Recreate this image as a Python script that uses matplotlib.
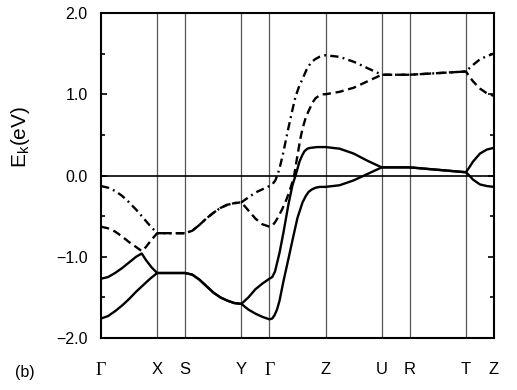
import numpy as np
import matplotlib
matplotlib.use("Agg")
import matplotlib.pyplot as plt

# high-symmetry points along the path (k in units of the shortest segment)
sym_labels = ["Γ", "X", "S", "Y", "Γ", "Z", "U", "R", "T", "Z"]
sym_k = [0, 2, 3, 5, 6, 8, 10, 11, 13, 14]

# lower solid band
k_s1 = [0, 0.25, 0.5, 0.75, 1.0, 1.25, 1.5, 1.75, 2.0,
        3.0, 3.25, 3.5, 3.75, 4.0, 4.25, 4.5, 4.75, 5.0,
        5.25, 5.5, 5.75, 6.0,
        6.1, 6.18, 6.27, 6.36, 6.5, 6.68, 6.85, 7.0, 7.18, 7.3, 7.4, 7.52, 7.65, 7.8, 8.0,
        8.5, 9.0, 9.5, 10.0, 11.0, 12.0, 13.0,
        13.12, 13.25, 13.5, 13.75, 14.0]
e_s1 = [-1.76, -1.73, -1.67, -1.60, -1.52, -1.43, -1.35, -1.27, -1.20,
        -1.20, -1.22, -1.28, -1.36, -1.44, -1.50, -1.54, -1.57, -1.58,
        -1.65, -1.70, -1.74, -1.77,
        -1.76, -1.72, -1.65, -1.54, -1.30, -1.02, -0.75, -0.52, -0.33, -0.25, -0.20, -0.17, -0.15, -0.14, -0.14,
        -0.12, -0.06, 0.02, 0.10, 0.10, 0.07, 0.04,
        0.00, -0.05, -0.11, -0.13, -0.14]

# upper solid band
k_s2 = [0, 0.25, 0.5, 0.75, 1.0, 1.25, 1.45, 1.6, 1.8, 2.0,
        3.0, 3.25, 3.5, 3.75, 4.0, 4.25, 4.5, 4.75, 5.0,
        5.25, 5.5, 5.75, 6.0,
        6.1, 6.2, 6.36, 6.5, 6.68, 6.82, 6.93, 7.07, 7.17, 7.25, 7.35, 7.46, 7.7, 8.0,
        8.5, 9.0, 9.5, 10.0, 11.0, 12.0, 13.0,
        13.12, 13.25, 13.5, 13.75, 14.0]
e_s2 = [-1.27, -1.25, -1.20, -1.14, -1.07, -1.00, -0.96, -1.04, -1.13, -1.20,
        -1.20, -1.22, -1.28, -1.36, -1.44, -1.50, -1.54, -1.57, -1.58,
        -1.50, -1.40, -1.33, -1.27,
        -1.25, -1.18, -0.95, -0.70, -0.35, -0.12, 0.00, 0.17, 0.25, 0.30, 0.33, 0.34, 0.35, 0.35,
        0.33, 0.27, 0.18, 0.10, 0.10, 0.07, 0.04,
        0.10, 0.17, 0.27, 0.32, 0.34]

# dashed band
k_d = [0, 0.25, 0.5, 0.75, 1.0, 1.25, 1.45, 1.6, 1.8, 2.0,
       3.0, 3.25, 3.5, 3.75, 4.0, 4.25, 4.5, 4.75, 5.0,
       5.25, 5.5, 5.75, 6.0,
       6.1, 6.21, 6.33, 6.46, 6.6, 6.71, 6.8, 6.89, 7.0, 7.1, 7.18, 7.3, 7.43, 7.54, 7.64, 7.76, 7.89, 8.0,
       8.5, 9.0, 9.5, 10.0, 11.0, 12.0, 13.0,
       13.12, 13.25, 13.5, 13.75, 14.0]
e_d = [-0.63, -0.65, -0.69, -0.75, -0.82, -0.88, -0.93, -0.88, -0.79, -0.71,
       -0.71, -0.68, -0.61, -0.53, -0.46, -0.40, -0.36, -0.34, -0.33,
       -0.43, -0.53, -0.60, -0.63,
       -0.62, -0.57, -0.50, -0.41, -0.30, -0.20, -0.10, 0.02, 0.25, 0.45, 0.58, 0.72, 0.82, 0.90, 0.95, 0.98, 1.00, 1.00,
       1.03, 1.08, 1.16, 1.24, 1.24, 1.26, 1.28,
       1.22, 1.16, 1.07, 1.01, 0.98]

# dash-dot band
k_dd = [0, 0.25, 0.5, 0.75, 1.0, 1.25, 1.5, 1.75, 2.0,
        3.0, 3.25, 3.5, 3.75, 4.0, 4.25, 4.5, 4.75, 5.0,
        5.25, 5.5, 5.75, 6.0,
        6.1, 6.21, 6.3, 6.39, 6.48, 6.57, 6.66, 6.75, 6.84, 6.93, 7.05, 7.18, 7.32, 7.46, 7.62, 7.78, 8.0,
        8.5, 9.0, 9.5, 10.0, 11.0, 12.0, 13.0,
        13.12, 13.25, 13.5, 13.75, 14.0]
e_dd = [-0.13, -0.15, -0.19, -0.25, -0.33, -0.42, -0.52, -0.62, -0.71,
        -0.71, -0.68, -0.61, -0.53, -0.46, -0.40, -0.36, -0.34, -0.33,
        -0.27, -0.21, -0.17, -0.13,
        -0.11, -0.06, 0.02, 0.13, 0.26, 0.41, 0.56, 0.70, 0.84, 0.97, 1.09, 1.19, 1.30, 1.38, 1.43, 1.46, 1.48,
        1.46, 1.40, 1.32, 1.24, 1.24, 1.26, 1.28,
        1.32, 1.36, 1.43, 1.47, 1.50]

y_ticks = [-2.0, -1.0, 0.0, 1.0, 2.0]

plt.rcParams['font.family'] = ['Liberation Sans', 'DejaVu Sans']

fig = plt.figure(figsize=(5.17, 3.9), dpi=100)
ax = fig.add_axes([0.1954, 0.1333, 0.7601, 0.8334])

for k in sym_k[1:-1]:
    ax.axvline(k, color='#555555', lw=0.9, zorder=1)
ax.axhline(0.0, color='black', lw=1.2, zorder=2)

lw = 1.7
ax.plot(k_s1, e_s1, color='black', lw=lw, zorder=3)
ax.plot(k_s2, e_s2, color='black', lw=lw, zorder=3)
ax.plot(k_d, e_d, color='black', lw=lw, ls=(0, (3.5, 2.0)), zorder=3)
ax.plot(k_dd, e_dd, color='black', lw=lw, ls=(0, (3.5, 1.8, 0.8, 1.8)), zorder=3)

ax.set_xlim(sym_k[0], sym_k[-1])
ax.set_ylim(-2.0, 2.0)
ax.set_yticks(y_ticks)
ax.set_yticklabels([f"{v:.1f}".replace('-', '\u2212') for v in y_ticks], fontsize=11.5)
ax.set_yticks(np.arange(-1.5, 2.0, 1.0), minor=True)
ax.tick_params(axis='y', which='both', direction='in', left=True, right=True,
               width=1.2, pad=9.5)
ax.tick_params(axis='y', which='major', length=4)
ax.tick_params(axis='y', which='minor', length=3)

ax.set_xticks(sym_k)
ax.set_xticklabels(sym_labels, fontsize=12)
ax.tick_params(axis='x', length=0, pad=17.5)
for t in ax.get_xticklabels():
    if t.get_text() == "Γ":
        t.set_family(['Liberation Serif', 'DejaVu Serif'])
        t.set_fontsize(13)

for s in ax.spines.values():
    s.set_linewidth(1.5)

fig.text(21 / 517, 1 - 137 / 390, r"E$_\mathregular{k}$(eV)", rotation=90,
         ha='center', va='center', fontsize=15)
fig.text(25 / 517, 1 - 372 / 390, "(b)", ha='center', va='center', fontsize=11.5)

fig.savefig('out.png', dpi=100)
